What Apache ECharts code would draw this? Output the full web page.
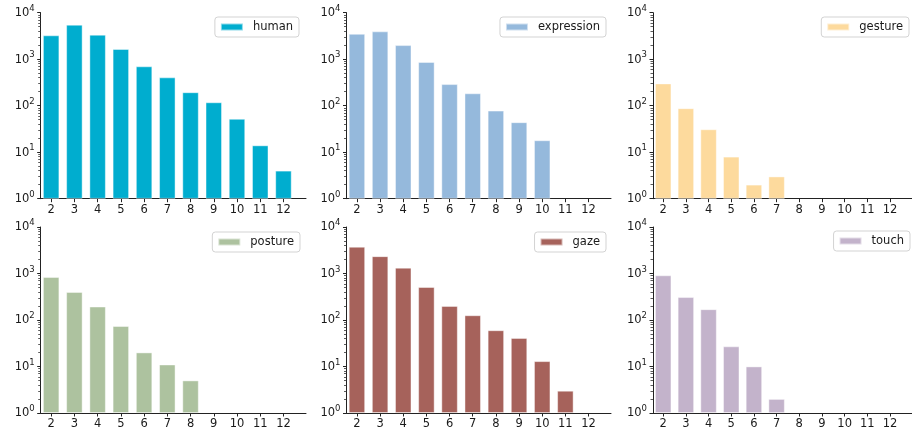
<!DOCTYPE html>
<html>
<head>
<meta charset="utf-8">
<script src="https://cdn.jsdelivr.net/npm/echarts@6/dist/echarts.min.js"></script>
<style>html,body{margin:0;padding:0;background:#fff;}#chart{width:912px;height:437px;}</style>
</head>
<body>
<div id="chart"></div>
<script>
// ---- data ----
const categories = [2, 3, 4, 5, 6, 7, 8, 9, 10, 11, 12];
const seriesNames = ['human', 'expression', 'gesture', 'posture', 'gaze', 'touch'];
const humanValues      = [3250, 5500, 3350, 1650, 700, 405, 194, 118, 52, 14, 4];
const expressionValues = [3500, 3950, 2000, 870, 290, 184, 78, 44, 18, null, null];
const gestureValues    = [300, 88, 31, 8, 2, 3, null, null, null, null, null];
const postureValues    = [840, 400, 194, 74, 20, 11, 5, null, null, null, null];
const gazeValues       = [3750, 2350, 1330, 510, 200, 126, 60, 41, 13, 3, null];
const touchValues      = [910, 310, 170, 27, 10, 2, null, null, null, null, null];
const yTickExponents = [0, 1, 2, 3, 4];

// ---- styles / layout ----
const allValues = [humanValues, expressionValues, gestureValues, postureValues, gazeValues, touchValues];
const colors = ['#00adcf', '#95b9dc', '#fdda9d', '#adc29f', '#a6625b', '#c3b3cb'];
const cols = [{ left: 40.7, right: 306 }, { left: 346.5, right: 611 }, { left: 653, right: 918 }];
const rows = [{ top: 12.7, bottom: 198.7 }, { top: 227, bottom: 413 }];
const legendRight = [613, 306, 3, 612, 306, 2];
const legendTop = [17, 17, 17, 232, 232, 231];
const xMin = 1.55, xMax = 12.97;
const FONT = 'DejaVu Sans';
const TXT = '#1a1a1a';

const yMin = Math.pow(10, yTickExponents[0]);
const yMax = Math.pow(10, yTickExponents[yTickExponents.length - 1]);
const majorTicks = yTickExponents.map(e => Math.pow(10, e));
const minorTicks = [];
for (let i = 0; i < yTickExponents.length - 1; i++) {
  for (let k = 2; k <= 9; k++) minorTicks.push(k * majorTicks[i]);
}

const grids = [], xAxes = [], yAxes = [], series = [], legends = [];
for (let i = 0; i < 6; i++) {
  const r = rows[Math.floor(i / 3)], c = cols[i % 3];
  grids.push({ left: c.left, top: r.top, width: c.right - c.left, height: r.bottom - r.top, containLabel: false });
  xAxes.push({
    type: 'value', gridIndex: i, min: xMin, max: xMax,
    axisLine: { show: true, onZero: false, lineStyle: { color: '#222', width: 1 } },
    axisTick: { show: true, length: 3.5, customValues: categories, lineStyle: { color: '#222' } },
    axisLabel: { customValues: categories, margin: 5, fontSize: 11.5, fontFamily: FONT, color: TXT, formatter: v => String(v) },
    splitLine: { show: false }
  });
  yAxes.push({
    type: 'log', logBase: 10, gridIndex: i, min: yMin, max: yMax, position: 'left',
    axisLine: { show: true, onZero: false, lineStyle: { color: '#222', width: 1 } },
    axisTick: { show: true, length: 3.5, customValues: majorTicks, lineStyle: { color: '#222' } },
    axisLabel: {
      customValues: majorTicks, margin: 6, fontFamily: FONT, color: TXT,
      formatter: v => '{b|10}{s|' + Math.round(Math.log10(v)) + '}',
      rich: {
        b: { fontSize: 11.5, fontFamily: FONT, color: TXT, verticalAlign: 'bottom', lineHeight: 13 },
        s: { fontSize: 8.5, fontFamily: FONT, color: TXT, verticalAlign: 'bottom', padding: [0, 0, 6, 0], lineHeight: 9 }
      }
    },
    splitLine: { show: false }
  });
  yAxes.push({
    type: 'log', logBase: 10, gridIndex: i, min: yMin, max: yMax, position: 'left',
    axisLine: { show: false, onZero: false },
    axisTick: { show: true, length: 2.5, customValues: minorTicks, lineStyle: { color: '#333', width: 0.8 } },
    axisLabel: { show: true, customValues: minorTicks, formatter: () => '' },
    splitLine: { show: false }
  });
  const data = [];
  categories.forEach((cat, j) => { const v = allValues[i][j]; if (v != null) data.push([cat, v]); });
  series.push({
    name: seriesNames[i], type: 'bar', xAxisIndex: i, yAxisIndex: 2 * i,
    barWidth: 16.3, data: data,
    itemStyle: { color: colors[i], borderColor: 'rgba(255,255,255,0.55)', borderWidth: 0.8 },
    silent: true, animation: false
  });
  legends.push({
    data: [seriesNames[i]], right: legendRight[i], top: legendTop[i],
    icon: 'rect', itemWidth: 22, itemHeight: 7,
    backgroundColor: 'rgba(255,255,255,0.85)', borderColor: '#d3d3d3', borderWidth: 1, borderRadius: 3,
    padding: [4, 6, 4, 5],
    textStyle: { fontSize: 11.5, fontFamily: FONT, color: TXT, padding: [0, 0, 0, 5] },
    selectedMode: false
  });
}

const chart = echarts.init(document.getElementById('chart'), null, { renderer: 'canvas' });
chart.setOption({
  animation: false,
  backgroundColor: '#fff',
  grid: grids, xAxis: xAxes, yAxis: yAxes, series: series, legend: legends
});
</script>
</body>
</html>
